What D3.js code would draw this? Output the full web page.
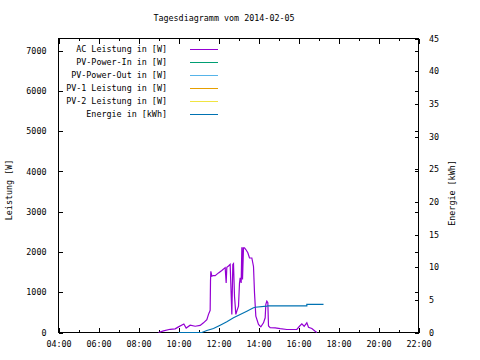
<!DOCTYPE html>
<html><head><meta charset="utf-8">
<script src="https://cdn.jsdelivr.net/npm/d3@7"></script>
<style>
html,body{margin:0;padding:0;background:#fff;}
svg{display:block;}
text{font-family:"DejaVu Sans Mono","Liberation Mono",monospace;font-size:8.4px;fill:#000;}
</style></head><body>
<svg id="c" width="480" height="360"></svg>
<script>
const title = "Tagesdiagramm vom 2014-02-05";
const dayStr = "2014-02-05";
const seriesNames = ["AC Leistung in [W]","PV-Power-In in [W]","PV-Power-Out in [W]","PV-1 Leistung in [W]","PV-2 Leistung in [W]","Energie in [kWh]"];
const seriesColors = ["#9400d3","#009e73","#56b4e9","#e69f00","#f0e442","#0072b2"];
const yTicks = [0,1000,2000,3000,4000,5000,6000,7000];
const y2Ticks = [0,5,10,15,20,25,30,35,40,45];
const xMajor = ["04:00","06:00","08:00","10:00","12:00","14:00","16:00","18:00","20:00","22:00"];
const xMinor = ["05:00","07:00","09:00","11:00","13:00","15:00","17:00","19:00","21:00"];

// AC Leistung [W]
const acTimes = ["09:00","09:15","09:35","09:50","10:00","10:16","10:23","10:35","10:50","11:05","11:15","11:25","11:30","11:35","11:36","11:37","11:40","11:45","11:50","12:00","12:10","12:20","12:23","12:25","12:30","12:35","12:40","12:43","12:45","12:48","12:52","12:55","13:00","13:03","13:05","13:08","13:10","13:11","13:12","13:15","13:18","13:22","13:28","13:33","13:40","13:45","13:48","13:52","14:00","14:07","14:15","14:20","14:22","14:25","14:28","14:30","14:35","14:50","15:05","15:25","15:55","16:03","16:10","16:17","16:25","16:30","16:40","16:50","16:55"];
const acValues = [0,40,80,90,140,210,110,180,155,175,240,320,450,550,1270,1520,1400,1415,1410,1480,1540,1610,1230,1620,1650,1690,450,1690,1710,900,450,530,655,1230,1360,1230,2100,2100,1315,2100,2100,2060,1980,1850,1850,1640,985,405,200,140,240,365,700,780,740,160,120,115,95,75,75,155,215,155,240,130,100,30,0];
const pvInValues = [];
const pvOutValues = [];
const pv1Values = [];
const pv2Values = [];
// Energie [kWh]
const enTimes = ["10:00","11:10","11:25","11:45","12:05","12:25","12:45","13:05","13:25","13:45","13:50","14:25","14:30","16:25","16:25","17:15"];
const enValues = [0,0,0.31,0.61,1.12,1.64,2.25,2.76,3.26,3.78,3.87,4.03,4.09,4.09,4.29,4.29];

const parse = d3.timeParse("%Y-%m-%d %H:%M");
const T = s => parse(dayStr + " " + s);

const L = 58.5, R = 418.5, TOP = 38.5, B = 332.5;
const svg = d3.select("#c");
const x = d3.scaleTime().domain([T("04:00"), T("22:00")]).range([L, R]);
const y = d3.scaleLinear().domain([0, 7300]).range([B, TOP]);
const y2 = d3.scaleLinear().domain([0, 45]).range([B, TOP]);

// title
svg.append("text").attr("x", 224).attr("y", 21).attr("text-anchor","middle").text(title);

// axes
const fmt = d3.timeFormat("%H:%M");
function axisStyle(g){ g.select(".domain").remove(); g.selectAll("line").attr("stroke","#000").attr("shape-rendering","crispEdges"); g.selectAll("text").attr("font-family",null).attr("font-size",null); }

svg.append("g").attr("transform",`translate(0,${B})`)
  .call(d3.axisBottom(x).tickValues(xMajor.map(T)).tickSizeInner(-5).tickSizeOuter(0).tickFormat(fmt))
  .call(axisStyle).call(g=>g.selectAll("text").attr("dy","0").attr("y",14));
svg.append("g").attr("transform",`translate(0,${B})`)
  .call(d3.axisBottom(x).tickValues(xMinor.map(T)).tickSizeInner(-2.5).tickSizeOuter(0).tickFormat(""))
  .call(axisStyle);
svg.append("g").attr("transform",`translate(0,${TOP})`)
  .call(d3.axisTop(x).tickValues(xMajor.map(T)).tickSizeInner(-5).tickSizeOuter(0).tickFormat(""))
  .call(axisStyle);
svg.append("g").attr("transform",`translate(0,${TOP})`)
  .call(d3.axisTop(x).tickValues(xMinor.map(T)).tickSizeInner(-2.5).tickSizeOuter(0).tickFormat(""))
  .call(axisStyle);

svg.append("g").attr("transform",`translate(${L},0)`)
  .call(d3.axisLeft(y).tickValues(yTicks).tickSizeInner(-4).tickSizeOuter(0).tickPadding(12).tickFormat(d3.format("d")))
  .call(axisStyle);
svg.append("g").attr("transform",`translate(${R},0)`)
  .call(d3.axisRight(y).tickValues(yTicks).tickSizeInner(-4).tickSizeOuter(0).tickFormat(""))
  .call(axisStyle);
svg.append("g").attr("transform",`translate(${R},0)`)
  .call(d3.axisRight(y2).tickValues(y2Ticks).tickSizeInner(-4).tickSizeOuter(0).tickPadding(10.5).tickFormat(d3.format("d")))
  .call(axisStyle);

// frame
svg.append("rect").attr("x",L).attr("y",TOP).attr("width",R-L).attr("height",B-TOP)
  .attr("fill","none").attr("stroke","#000").attr("shape-rendering","crispEdges");

// axis titles
svg.append("text").attr("transform","translate(12,190) rotate(-90)").attr("text-anchor","middle").text("Leistung [W]");
svg.append("text").attr("transform","translate(455,193) rotate(-90)").attr("text-anchor","middle").text("Energie [kWh]");

// data lines
const lineW = d3.line().x(d=>x(d[0])).y(d=>y(d[1]));
const lineE = d3.line().x(d=>x(d[0])).y(d=>y2(d[1]));
const mk = (times, vals) => times.map((t,i)=>[T(t), vals[i]]);
const seriesData = [mk(acTimes, acValues), pvInValues, pvOutValues, pv1Values, pv2Values];
seriesData.forEach((d,i)=>{
  if(d.length) svg.append("path").datum(d).attr("fill","none").attr("stroke",seriesColors[i]).attr("stroke-width",1.2).attr("d",lineW);
});
svg.append("path").datum(mk(enTimes, enValues)).attr("fill","none").attr("stroke",seriesColors[5]).attr("stroke-width",1.2).attr("d",lineE);

// legend
const lg = svg.append("g");
seriesNames.forEach((n,i)=>{
  const yy = 49 + i*13.07;
  lg.append("text").attr("x",167).attr("y",yy+3).attr("text-anchor","end").text(n);
  lg.append("line").attr("x1",190).attr("x2",218).attr("y1",yy).attr("y2",yy)
    .attr("stroke",seriesColors[i]).attr("stroke-width",1).attr("shape-rendering","crispEdges");
});
</script>
</body></html>
